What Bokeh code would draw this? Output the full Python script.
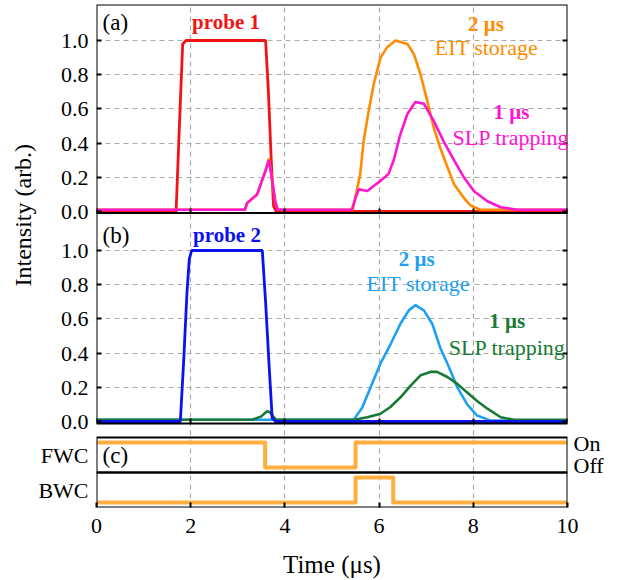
from bokeh.plotting import figure
from bokeh.models import (Range1d, LinearAxis, FixedTicker, Grid, BoxAnnotation,
                          Label, Title, CustomJSTickFormatter)
from bokeh.embed import file_html
from bokeh.resources import INLINE

FONT = "Liberation Serif"

# ---------------- data ----------------
# panel (a)
t_probe1 = [0, 1.69, 1.76, 1.83, 1.9, 2.5, 3.0, 3.4, 3.59, 3.65, 3.71, 3.76, 3.82, 10]
probe1   = [0, 0, 0.5, 0.98, 1.0, 1.0, 1.0, 1.0, 1.0, 0.7, 0.3, 0.03, 0.0, 0]

t_eit_a = [0, 3.15, 3.2, 3.41, 3.59, 3.66, 3.72, 3.8, 3.85, 5.44, 5.6, 5.67, 5.78, 5.89,
           6.03, 6.17, 6.35, 6.6, 6.74, 6.88, 7.02, 7.16, 7.3, 7.45, 7.59, 7.8, 7.94, 8.15, 10]
eit_a   = [0.01, 0.01, 0.05, 0.1, 0.24, 0.31, 0.2, 0.05, 0.01, 0.01, 0.22, 0.41, 0.59, 0.75,
           0.90, 0.96, 1.0, 0.98, 0.92, 0.80, 0.65, 0.49, 0.37, 0.26, 0.16, 0.08, 0.035, 0.01, 0.01]

t_slp_a = [0, 3.15, 3.2, 3.41, 3.59, 3.66, 3.72, 3.8, 3.85, 5.42, 5.5, 5.57, 5.75, 6.03, 6.2,
           6.31, 6.45, 6.6, 6.77, 6.95, 7.16, 7.37, 7.59, 7.8, 8.01, 8.3, 8.58, 8.93, 10]
slp_a   = [0.01, 0.01, 0.05, 0.1, 0.24, 0.30, 0.2, 0.05, 0.01, 0.01, 0.08, 0.13, 0.12, 0.18, 0.22,
           0.30, 0.45, 0.57, 0.64, 0.63, 0.53, 0.41, 0.30, 0.20, 0.12, 0.06, 0.025, 0.01, 0.01]

# panel (b)
t_probe2 = [0, 1.78, 1.85, 1.92, 1.97, 2.02, 3.0, 3.52, 3.59, 3.66, 3.73, 3.8, 10]
probe2   = [0, 0, 0.35, 0.75, 0.95, 1.0, 1.0, 1.0, 0.7, 0.35, 0.02, 0.0, 0]

t_eit_b = [0, 5.46, 5.64, 5.82, 6.03, 6.24, 6.45, 6.63, 6.77, 6.95, 7.13, 7.3, 7.48, 7.66,
           7.87, 8.08, 8.37, 10]
eit_b   = [0.01, 0.01, 0.08, 0.2, 0.34, 0.45, 0.57, 0.65, 0.68, 0.65, 0.57, 0.43, 0.32, 0.2,
           0.1, 0.035, 0.005, 0.005]

t_slp_b = [0, 3.3, 3.5, 3.62, 3.68, 3.75, 3.82, 5.47, 5.75, 6.03, 6.24, 6.45, 6.67, 6.88,
           7.09, 7.23, 7.45, 7.66, 7.87, 8.08, 8.3, 8.58, 8.86, 10]
slp_b   = [0.01, 0.01, 0.03, 0.06, 0.055, 0.03, 0.01, 0.01, 0.025, 0.045, 0.085, 0.14, 0.21, 0.27,
           0.29, 0.29, 0.26, 0.22, 0.17, 0.12, 0.075, 0.025, 0.01, 0.01]

# panel (c): control fields (1 = On, 0 = Off)
t_fwc = [0.05, 3.58, 5.5, 9.95]
fwc   = [1, 0, 1, 1]
t_bwc = [0.05, 5.5, 6.3, 9.95]
bwc   = [0, 1, 0, 0]

x_ticks = [0, 2, 4, 6, 8, 10]
x_grid = [2, 4, 6, 8]
y_ticks = [0.0, 0.2, 0.4, 0.6, 0.8, 1.0]
y_tick_labels = ["0.0", "0.2", "0.4", "0.6", "0.8", "1.0"]
y_grid = [0.2, 0.4, 0.6, 0.8, 1.0]

# ---------------- colours ----------------
C_RED = "#F21313"
C_ORANGE = "#FF8C00"
C_MAGENTA = "#FF14D2"
C_BLUE = "#0A12F0"
C_LBLUE = "#1DA1F2"
C_GREEN = "#187A36"
C_CTRL = "#FFAF40"
C_GRID = "#ABABAB"

# ---------------- layout (pixels) ----------------
FIG_W, FIG_H = 623, 580
BL, BR, BT, BB = 96, 56, 4, 73
FH = FIG_H - BT - BB  # frame height


def make_range(zero_px, unit_px):
    start = -(FH - zero_px) / unit_px
    return Range1d(start, start + FH / unit_px)


def px_to_val(rng, px):
    return rng.start + (FH - px) * (rng.end - rng.start) / FH


def val_to_px(rng, v):
    return FH - (v - rng.start) * FH / (rng.end - rng.start)


# frame-pixel positions (from frame top)
rng_a = make_range(207, 171)
rng_b = make_range(417, 171)
rng_c = make_range(463, 25)
rng_d = make_range(498, 25)

EDGE_A_TOP, EDGE_AB, EDGE_B_BOT = 0, 208.5, 419
EDGE_C_TOP, EDGE_CD, EDGE_D_BOT = 433, 468, 503
PX_FWC, PX_BWC = 451, 486
PX_ON, PX_OFF = 439, 461
INTENSITY_START = 282  # frame px where the vertical "Intensity" label begins (its lower end)

p = figure(width=FIG_W, height=FIG_H, x_range=Range1d(0, 10), y_range=rng_b,
           output_backend="svg", toolbar_location=None,
           x_axis_location=None, y_axis_location=None,
           min_border_left=BL, min_border_right=BR, min_border_top=BT, min_border_bottom=BB)
p.extra_y_ranges = {"a": rng_a, "c": rng_c, "d": rng_d}
p.outline_line_color = None
p.grid.visible = False
p.background_fill_color = "white"
p.border_fill_color = "white"

# grids
p.add_layout(Grid(dimension=0, ticker=FixedTicker(ticks=x_grid), grid_line_color=C_GRID,
                  grid_line_dash="5 4", grid_line_width=1.2))
for rn in ["a", "default"]:
    p.add_layout(Grid(dimension=1, ticker=FixedTicker(ticks=y_grid), y_range_name=rn,
                      grid_line_color=C_GRID, grid_line_dash="5 4", grid_line_width=1.2))

# data lines
p.line(t_probe1, probe1, y_range_name="a", line_color=C_RED, line_width=2.8)
p.line(t_eit_a, eit_a, y_range_name="a", line_color=C_ORANGE, line_width=2.6)
p.line(t_slp_a, slp_a, y_range_name="a", line_color=C_MAGENTA, line_width=2.6)

p.line(t_eit_b, eit_b, line_color=C_LBLUE, line_width=2.6)
p.line(t_slp_b, slp_b, line_color=C_GREEN, line_width=2.6)
p.line(t_probe2, probe2, line_color=C_BLUE, line_width=2.8)

p.step(t_fwc, fwc, mode="after", y_range_name="c", line_color=C_CTRL, line_width=4,
       line_cap="round", line_join="round")
p.step(t_bwc, bwc, mode="after", y_range_name="d", line_color=C_CTRL, line_width=4,
       line_cap="round", line_join="round")

# panel frames
for rn, rng, top, bot in [("a", rng_a, EDGE_A_TOP, EDGE_AB), ("default", rng_b, EDGE_AB, EDGE_B_BOT),
                          ("c", rng_c, EDGE_C_TOP, EDGE_CD), ("d", rng_d, EDGE_CD, EDGE_D_BOT)]:
    p.add_layout(BoxAnnotation(left=0, right=10, top=px_to_val(rng, top), bottom=px_to_val(rng, bot),
                               y_range_name=rn, fill_alpha=0, fill_color=None,
                               line_color="black", line_alpha=1.0, line_width=2))


def style_axis(ax, labels=True, size="22px", tick_in=5):
    ax.axis_line_color = None
    ax.major_tick_in = tick_in
    ax.major_tick_out = 0
    ax.major_tick_line_width = 2
    ax.major_tick_line_color = "black" if tick_in else None
    ax.minor_tick_line_color = None
    ax.major_label_text_font = FONT
    ax.major_label_text_font_size = size if labels else "0px"
    ax.major_label_text_color = "black" if labels else None
    ax.major_label_standoff = 0


def lookup_formatter(vals, labs):
    return CustomJSTickFormatter(args=dict(vals=vals, labs=labs), code="""
        for (let i = 0; i < vals.length; i++) {
            if (Math.abs(tick - vals[i]) < 1e-6) return labs[i];
        }
        return "";
    """)


# inner tick marks on the frame edges of (a) and (b)
for rn in ["a", "default"]:
    for loc, side in [(0, "left"), (10, "right")]:
        ax = LinearAxis(y_range_name=rn, ticker=FixedTicker(ticks=y_ticks), fixed_location=loc)
        style_axis(ax, labels=False)
        p.add_layout(ax, side)
for edge in [EDGE_AB, EDGE_B_BOT]:
    ax = LinearAxis(ticker=FixedTicker(ticks=x_ticks), fixed_location=px_to_val(rng_b, edge))
    style_axis(ax, labels=False)
    p.add_layout(ax, "below")

# left tick labels: panel (b), panel (a) and the FWC / BWC row names (all on the main range)
left_vals, left_labs = [], []
for v, s in zip(y_ticks, y_tick_labels):
    left_vals.append(v)
    left_labs.append(s)
    left_vals.append(px_to_val(rng_b, val_to_px(rng_a, v)))
    left_labs.append(s)
left_vals += [px_to_val(rng_b, PX_FWC), px_to_val(rng_b, PX_BWC)]
left_labs += ["FWC", "BWC"]
ax_l = LinearAxis(ticker=FixedTicker(ticks=left_vals), formatter=lookup_formatter(left_vals, left_labs))
style_axis(ax_l, tick_in=0)
ax_l.major_label_standoff = 8
p.add_layout(ax_l, "left")

# Intensity label spanning (a) and (b)
p.add_layout(Title(text="Intensity (arb.)", align="left",
                   offset=FH - INTENSITY_START, standoff=0,
                   text_font=FONT, text_font_size="24px", text_font_style="normal",
                   text_color="black"), "left")

# right labels On / Off
right_vals = [px_to_val(rng_b, PX_ON), px_to_val(rng_b, PX_OFF)]
right_labs = ["On", "Off"]
ax_r = LinearAxis(ticker=FixedTicker(ticks=right_vals), formatter=lookup_formatter(right_vals, right_labs))
style_axis(ax_r, tick_in=0)
ax_r.major_label_standoff = 6
p.add_layout(ax_r, "right")

# bottom axis
ax_b = LinearAxis(ticker=FixedTicker(ticks=x_ticks), axis_label="Time (μs)")
style_axis(ax_b)
ax_b.major_label_standoff = 11
ax_b.axis_label_standoff = 15
ax_b.axis_label_text_font = FONT
ax_b.axis_label_text_font_size = "25px"
ax_b.axis_label_text_font_style = "normal"
ax_b.axis_label_text_color = "black"
p.add_layout(ax_b, "below")


def add_text(x, y, text, rn, color="black", size="22px", style="normal", align="left"):
    p.add_layout(Label(x=x, y=y, text=text, y_range_name=rn, text_font=FONT,
                       text_font_size=size, text_font_style=style, text_color=color,
                       text_align=align, text_baseline="middle"))


add_text(0.13, 1.105, "(a)", "a", size="23px")
add_text(2.75, 1.11, "probe 1", "a", C_RED, "21px", "bold", "center")
add_text(8.27, 1.094, "2 μs", "a", C_ORANGE, "21px", "bold", "center")
add_text(8.28, 0.959, "EIT storage", "a", C_ORANGE, "22px", "normal", "center")
add_text(8.81, 0.579, "1 μs", "a", C_MAGENTA, "21px", "bold", "center")
add_text(8.8, 0.433, "SLP trapping", "a", C_MAGENTA, "22px", "normal", "center")

add_text(0.13, 1.088, "(b)", "default", size="23px")
add_text(2.77, 1.088, "probe 2", "default", C_BLUE, "21px", "bold", "center")
add_text(6.8, 0.953, "2 μs", "default", C_LBLUE, "21px", "bold", "center")
add_text(6.83, 0.807, "EIT storage", "default", C_LBLUE, "22px", "normal", "center")
add_text(8.72, 0.59, "1 μs", "default", C_GREEN, "21px", "bold", "center")
add_text(8.72, 0.433, "SLP trapping", "default", C_GREEN, "22px", "normal", "center")

add_text(0.13, 0.48, "(c)", "c", size="23px")

open("out.html", "w").write(file_html(p, INLINE))
